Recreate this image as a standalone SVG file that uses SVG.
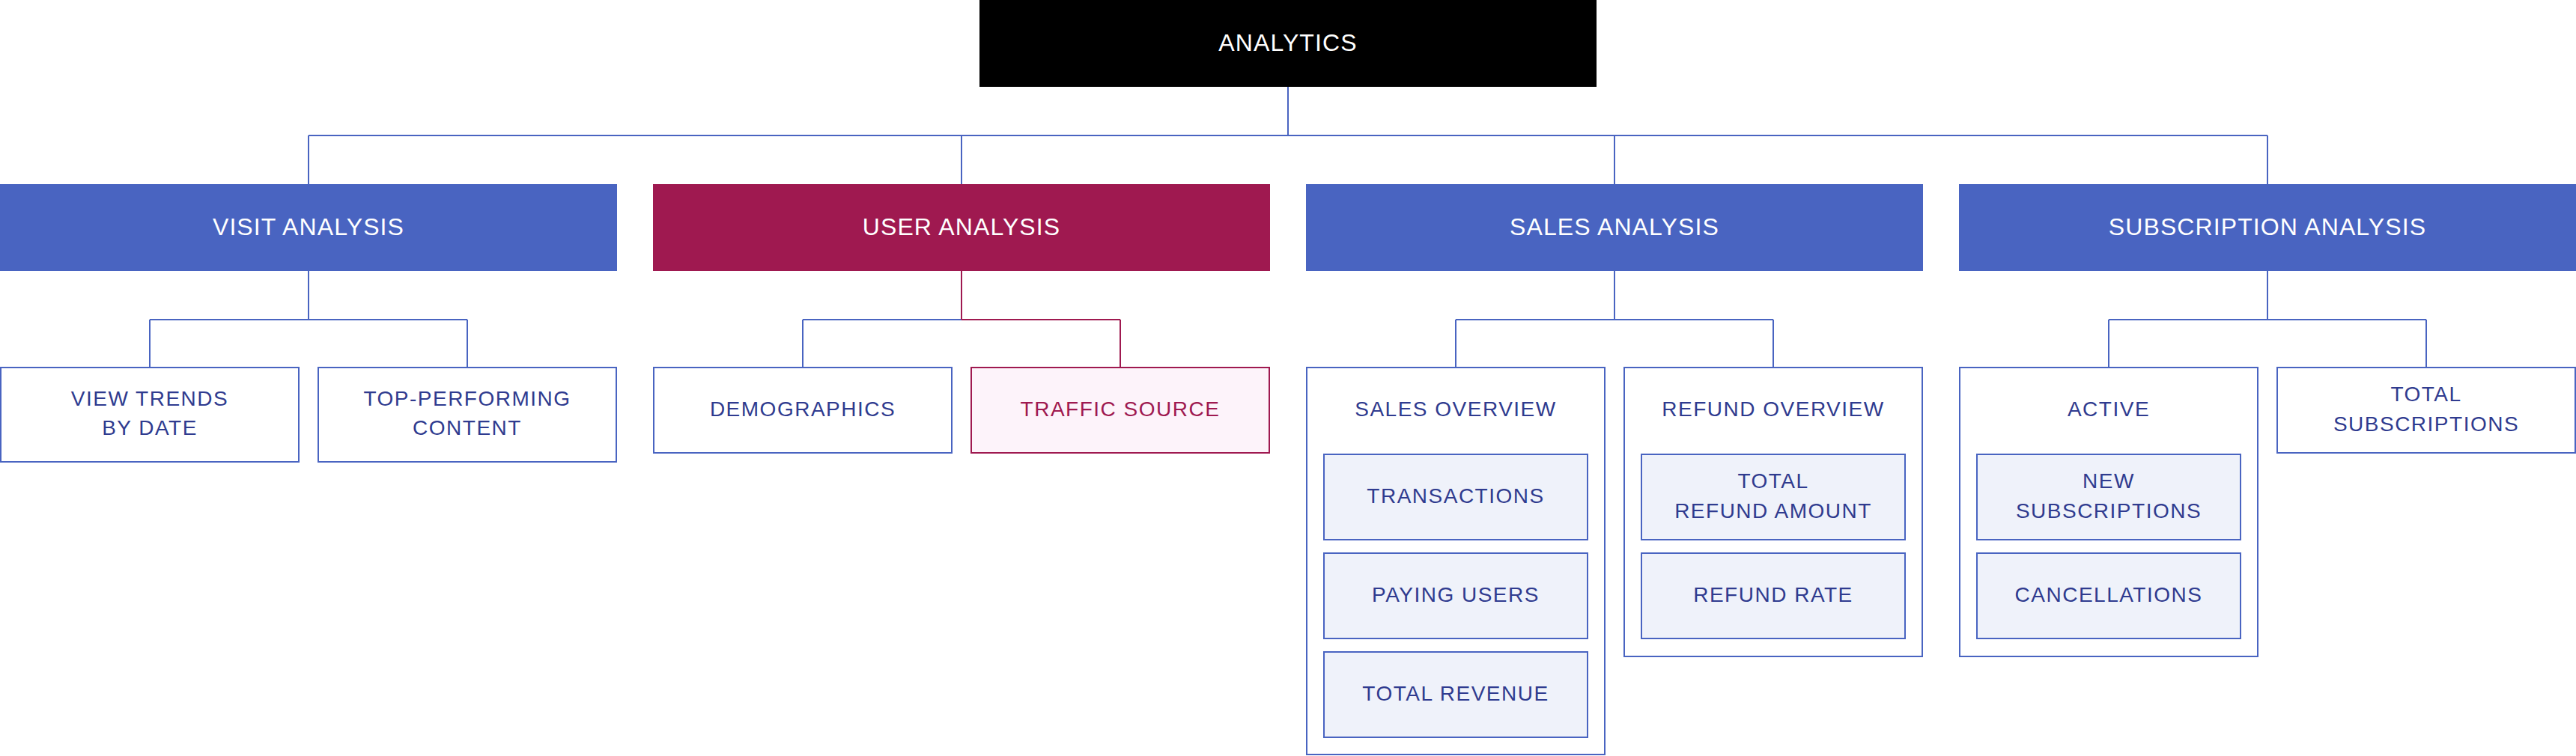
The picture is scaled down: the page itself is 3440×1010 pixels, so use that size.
<svg xmlns="http://www.w3.org/2000/svg" width="3440" height="1010" viewBox="0 0 3440 1010">
<style>
.bg{fill:#ffffff}
.root{fill:#000000}
.l1{fill:#4964c1}
.l1u{fill:#9f1950}
.box{fill:#ffffff;stroke:#4964c1;stroke-width:2}
.inner{fill:#eff2fa;stroke:#4964c1;stroke-width:2}
.pink{fill:#fdf3fa;stroke:#9f1950;stroke-width:2}
.conn{fill:none;stroke:#4964c1;stroke-width:2}
.connr{fill:none;stroke:#9f1950;stroke-width:2}
text{font-family:"Liberation Sans",Arial,sans-serif;text-anchor:middle}
.t1{fill:#ffffff;font-size:32px;letter-spacing:1.1px}
.t2{fill:#2f3b8f;font-size:28px;letter-spacing:1.5px}
.t2r{fill:#9f1950;font-size:28px;letter-spacing:1.5px}
</style>
<rect class="bg" x="0" y="0" width="3440" height="1010"/>
<g id="connectors">
<path class="conn" d="M1720 116V181M412 181H3028M412 181V246M1284 181V246M2156 181V246M3028 181V246"/>
<path class="conn" d="M412 362V427M200 427H624M200 427V491M624 427V491"/>
<path class="conn" d="M1072 427H1284M1072 427V491"/>
<path class="connr" d="M1284 362V427M1284 427H1496M1496 427V491"/>
<path class="conn" d="M2156 362V427M1944 427H2368M1944 427V491M2368 427V491"/>
<path class="conn" d="M3028 362V427M2816 427H3240M2816 427V491M3240 427V491"/>
</g>
<g id="analytics"><rect class="root" x="1308" y="-2" width="824" height="118"/><text class="t1" x="1720" y="68">ANALYTICS</text></g>
<g id="visit-analysis"><rect class="l1" x="0" y="246" width="824" height="116"/><text class="t1" x="412" y="314">VISIT ANALYSIS</text></g>
<g id="user-analysis"><rect class="l1u" x="872" y="246" width="824" height="116"/><text class="t1" x="1284" y="314">USER ANALYSIS</text></g>
<g id="sales-analysis"><rect class="l1" x="1744" y="246" width="824" height="116"/><text class="t1" x="2156" y="314">SALES ANALYSIS</text></g>
<g id="subscription-analysis"><rect class="l1" x="2616" y="246" width="824" height="116"/><text class="t1" x="3028" y="314">SUBSCRIPTION ANALYSIS</text></g>

<g id="view-trends"><rect class="box" x="1" y="491" width="398" height="126"/><text class="t2" x="200" y="542">VIEW TRENDS</text><text class="t2" x="200" y="581">BY DATE</text></g>
<g id="top-performing"><rect class="box" x="425" y="491" width="398" height="126"/><text class="t2" x="624" y="542">TOP-PERFORMING</text><text class="t2" x="624" y="581">CONTENT</text></g>

<g id="demographics"><rect class="box" x="873" y="491" width="398" height="114"/><text class="t2" x="1072" y="556">DEMOGRAPHICS</text></g>
<g id="traffic-source"><rect class="pink" x="1297" y="491" width="398" height="114"/><text class="t2r" x="1496" y="556">TRAFFIC SOURCE</text></g>

<g id="sales-overview"><rect class="box" x="1745" y="491" width="398" height="517"/><text class="t2" x="1944" y="556">SALES OVERVIEW</text></g>
<g id="transactions"><rect class="inner" x="1768" y="607" width="352" height="114"/><text class="t2" x="1944" y="672">TRANSACTIONS</text></g>
<g id="paying-users"><rect class="inner" x="1768" y="739" width="352" height="114"/><text class="t2" x="1944" y="804">PAYING USERS</text></g>
<g id="total-revenue"><rect class="inner" x="1768" y="871" width="352" height="114"/><text class="t2" x="1944" y="936">TOTAL REVENUE</text></g>

<g id="refund-overview"><rect class="box" x="2169" y="491" width="398" height="386"/><text class="t2" x="2368" y="556">REFUND OVERVIEW</text></g>
<g id="total-refund-amount"><rect class="inner" x="2192" y="607" width="352" height="114"/><text class="t2" x="2368" y="652">TOTAL</text><text class="t2" x="2368" y="692">REFUND AMOUNT</text></g>
<g id="refund-rate"><rect class="inner" x="2192" y="739" width="352" height="114"/><text class="t2" x="2368" y="804">REFUND RATE</text></g>

<g id="active"><rect class="box" x="2617" y="491" width="398" height="386"/><text class="t2" x="2816" y="556">ACTIVE</text></g>
<g id="new-subscriptions"><rect class="inner" x="2640" y="607" width="352" height="114"/><text class="t2" x="2816" y="652">NEW</text><text class="t2" x="2816" y="692">SUBSCRIPTIONS</text></g>
<g id="cancellations"><rect class="inner" x="2640" y="739" width="352" height="114"/><text class="t2" x="2816" y="804">CANCELLATIONS</text></g>

<g id="total-subscriptions"><rect class="box" x="3041" y="491" width="398" height="114"/><text class="t2" x="3240" y="536">TOTAL</text><text class="t2" x="3240" y="576">SUBSCRIPTIONS</text></g>
</svg>
